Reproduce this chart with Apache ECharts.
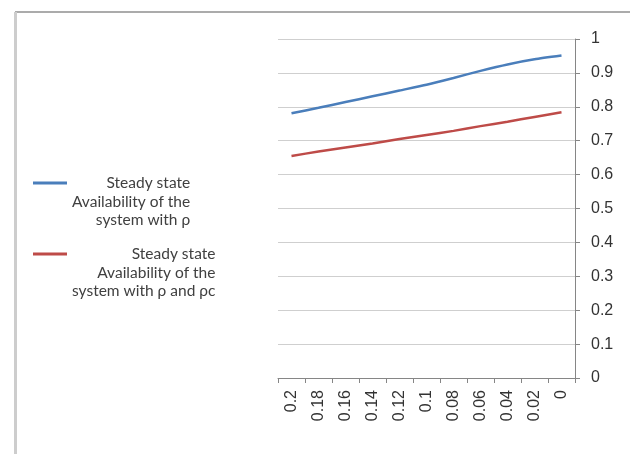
<!DOCTYPE html>
<html>
<head>
<meta charset="utf-8">
<script src="https://cdn.jsdelivr.net/npm/echarts@6/dist/echarts.min.js"></script>
<style>html,body{margin:0;padding:0;background:#fff;}#c{width:630px;height:454px;}</style>
</head>
<body>
<div id="c"></div>
<script>
const categories = ['0.2','0.18','0.16','0.14','0.12','0.1','0.08','0.06','0.04','0.02','0'];
const availabilityRho = [0.781, 0.797, 0.814, 0.831, 0.848, 0.865, 0.885, 0.906, 0.925, 0.940, 0.951];
const availabilityRhoRhoc = [0.655, 0.668, 0.680, 0.692, 0.705, 0.717, 0.729, 0.743, 0.756, 0.770, 0.784];
const seriesNames = [
  'Steady state\nAvailability of the\nsystem with ρ',
  'Steady state\nAvailability of the\nsystem with ρ and ρc'
];
const seriesColors = ['#4a7ebb', '#be4b48'];

const chart = echarts.init(document.getElementById('c'), null, {renderer: 'canvas'});
const legendText = {
  color: '#404040',
  fontFamily: 'Lato',
  fontSize: 15.5,
  padding: [37, 0, 0, 0],
  rich: {
    r: {align: 'right', fontFamily: 'Lato', fontSize: 15.5, lineHeight: 18.5, color: '#404040'}
  }
};
const axisFont = 'Arial, "Liberation Sans", sans-serif';
const legendFormatter = name => name.split('\n').map(l => '{r|' + l + '}').join('\n');
function makeLegend(name, top) {
  return {
    data: [name], orient: 'vertical', left: 33, top: top, padding: 0,
    itemWidth: 34, itemHeight: 3, icon: 'rect', selectedMode: false,
    formatter: legendFormatter, textStyle: legendText
  };
}
chart.setOption({
  animation: false,
  graphic: [
    {type: 'line', shape: {x1: 15, y1: 12, x2: 630, y2: 12}, style: {stroke: '#ababab', lineWidth: 2}},
    {type: 'line', shape: {x1: 15.5, y1: 12, x2: 15.5, y2: 454}, style: {stroke: '#cdcdcd', lineWidth: 3}}
  ],
  legend: [makeLegend(seriesNames[0], 175), makeLegend(seriesNames[1], 246)],
  grid: {left: 278, right: 55, top: 39, bottom: 76, containLabel: false},
  xAxis: {
    type: 'category', data: categories, boundaryGap: true,
    axisLine: {lineStyle: {color: '#868686', width: 1}},
    axisTick: {show: true, alignWithLabel: false, length: 5, lineStyle: {color: '#868686'}},
    axisLabel: {rotate: 90, margin: 12, color: '#333', fontFamily: axisFont, fontSize: 16, interval: 0}
  },
  yAxis: {
    type: 'value', position: 'right', min: 0, max: 1, interval: 0.1,
    axisLine: {show: true, lineStyle: {color: '#868686', width: 1}},
    axisTick: {show: true, length: 5, lineStyle: {color: '#868686'}},
    axisLabel: {margin: 16, color: '#333', fontFamily: axisFont, fontSize: 16},
    splitLine: {show: true, lineStyle: {color: '#cfcfcf', width: 1}}
  },
  series: [
    {name: seriesNames[0], type: 'line', data: availabilityRho, smooth: 0.2, showSymbol: false,
     lineStyle: {color: seriesColors[0], width: 2.5}, itemStyle: {color: seriesColors[0]}},
    {name: seriesNames[1], type: 'line', data: availabilityRhoRhoc, smooth: 0.2, showSymbol: false,
     lineStyle: {color: seriesColors[1], width: 2.5}, itemStyle: {color: seriesColors[1]}}
  ]
});
</script>
</body>
</html>
